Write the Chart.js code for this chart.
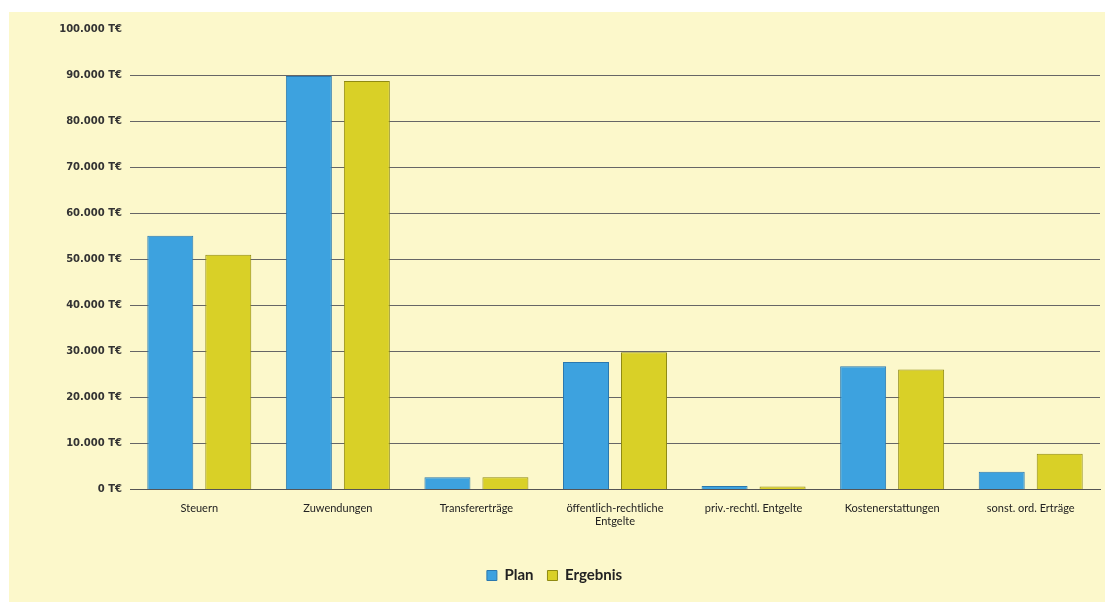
<!DOCTYPE html>
<html><head><meta charset="utf-8">
<script src="https://cdn.jsdelivr.net/npm/chart.js@4"></script>
<style>
html,body{margin:0;padding:0;background:#fff;}
#wrap{position:absolute;left:9px;top:12px;width:1096px;height:590px;background:#FCF8CB;}
</style></head>
<body><div id="wrap"><canvas id="c"></canvas></div>
<script>
const categories = ["Steuern","Zuwendungen","Transfererträge",["öffentlich-rechtliche","Entgelte"],"priv.-rechtl. Entgelte","Kostenerstattungen","sonst. ord. Erträge"];
const planValues = [55100, 89800, 2700, 27700, 800, 26800, 3900];
const ergebnisValues = [51000, 88700, 2700, 29800, 700, 26100, 7800];
const seriesNames = ["Plan","Ergebnis"];
const yMax = 100000;
const yStep = 10000;

function fmt(v){ return v===0 ? "0 T€" : v.toLocaleString('de-DE') + " T€"; }

new Chart(document.getElementById('c'), {
  type: 'bar',
  data: {
    labels: categories,
    datasets: [
      {label: seriesNames[0], data: planValues, backgroundColor: '#3DA2DF', borderColor: '#2B78AE', borderWidth: 1},
      {label: seriesNames[1], data: ergebnisValues, backgroundColor: '#D9D027', borderColor: '#8F8A12', borderWidth: 1}
    ]
  },
  options: {
    responsive: true,
    maintainAspectRatio: false,
    animation: false,
    layout: {padding: {left: 0, right: 5, top: 17, bottom: 9}},
    datasets: {bar: {barPercentage: 0.793, categoryPercentage: 0.837}},
    scales: {
      x: {
        afterFit: s => { s.height += 14; },
        grid: {display: false, drawTicks: false},
        border: {display: true, color: '#555', width: 1},
        ticks: {color: '#222', font: {family: 'Lato', size: 11}, padding: 12, maxRotation: 0, autoSkip: false}
      },
      y: {
        min: 0, max: yMax,
        afterFit: s => { s.width = 121; },
        grid: {color: c => (c.tick && c.tick.value === yMax) ? 'rgba(0,0,0,0)' : '#666', lineWidth: 1, drawTicks: false},
        border: {display: false},
        ticks: {stepSize: yStep, padding: 8, color: '#333', font: {family: 'DejaVu Sans', size: 10, weight: 'bold'}, callback: v => fmt(v)}
      }
    },
    plugins: {
      legend: {
        position: 'bottom',
        labels: {boxWidth: 10, boxHeight: 10, padding: 14, color: '#222', font: {family: 'Lato', size: 15, weight: 'bold'}}
      },
      tooltip: {enabled: false}
    }
  }
});
</script></body></html>
